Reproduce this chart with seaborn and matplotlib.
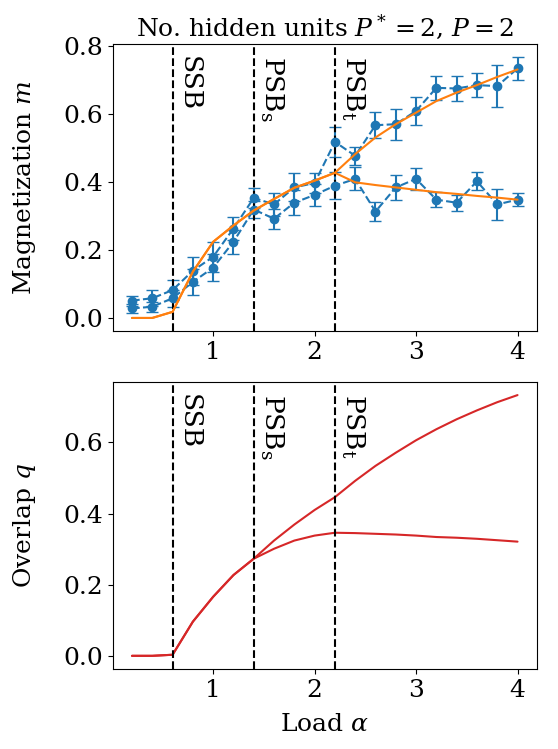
import numpy as np
import pandas as pd
import matplotlib
matplotlib.use("Agg")
import matplotlib.pyplot as plt
import matplotlib.transforms as mtransforms
import seaborn as sns

sns.set_style("ticks")
plt.rcParams['font.family'] = ['DejaVu Serif']
plt.rcParams['mathtext.fontset'] = 'dejavuserif'
plt.rcParams['font.size'] = 18
plt.rcParams['axes.edgecolor'] = 'black'
plt.rcParams['axes.labelcolor'] = 'black'
plt.rcParams['text.color'] = 'black'
plt.rcParams['xtick.color'] = 'black'
plt.rcParams['ytick.color'] = 'black'

# load values
alpha = [0.2, 0.4, 0.6, 0.8, 1.0, 1.2, 1.4, 1.6, 1.8, 2.0,
         2.2, 2.4, 2.6, 2.8, 3.0, 3.2, 3.4, 3.6, 3.8, 4.0]

# simulations (two hidden units), with error bars
m_sim_hi = [0.051, 0.058, 0.082, 0.139, 0.180, 0.263, 0.353, 0.334, 0.384, 0.397,
            0.518, 0.477, 0.567, 0.570, 0.609, 0.677, 0.675, 0.685, 0.682, 0.734]
m_err_hi = [0.015, 0.024, 0.030, 0.041, 0.044, 0.034, 0.030, 0.033, 0.041, 0.029,
            0.044, 0.027, 0.039, 0.046, 0.041, 0.036, 0.036, 0.036, 0.061, 0.033]
m_sim_lo = [0.028, 0.033, 0.058, 0.106, 0.148, 0.224, 0.319, 0.292, 0.339, 0.362,
            0.389, 0.409, 0.313, 0.384, 0.409, 0.348, 0.339, 0.402, 0.334, 0.348]
m_err_lo = [0.012, 0.015, 0.025, 0.039, 0.039, 0.036, 0.025, 0.030, 0.037, 0.033,
            0.039, 0.034, 0.027, 0.036, 0.032, 0.023, 0.023, 0.026, 0.046, 0.020]

# theory
m_th_hi = [0.0, 0.0, 0.018, 0.136, 0.224, 0.272, 0.316, 0.350, 0.383, 0.404,
           0.427, 0.482, 0.531, 0.570, 0.604, 0.638, 0.663, 0.685, 0.709, 0.731]
m_th_lo = [0.0, 0.0, 0.018, 0.136, 0.224, 0.272, 0.316, 0.350, 0.383, 0.404,
           0.427, 0.399, 0.391, 0.384, 0.377, 0.370, 0.365, 0.359, 0.354, 0.348]
q_hi = [0.0, 0.0, 0.003, 0.096, 0.166, 0.227, 0.273, 0.324, 0.369, 0.410,
        0.446, 0.492, 0.534, 0.571, 0.606, 0.637, 0.665, 0.690, 0.713, 0.733]
q_lo = [0.0, 0.0, 0.003, 0.096, 0.166, 0.227, 0.273, 0.301, 0.324, 0.338,
        0.346, 0.345, 0.343, 0.341, 0.338, 0.334, 0.332, 0.329, 0.325, 0.321]

# transitions
trans_x = [0.6, 1.4, 2.2]
trans_lbl = ['SSB', r'PSB$_\mathrm{s}$', r'PSB$_\mathrm{t}$']

df = pd.DataFrame({'alpha': alpha, 'm_hi': m_th_hi, 'm_lo': m_th_lo,
                   'q_hi': q_hi, 'q_lo': q_lo})

fig, (ax1, ax2) = plt.subplots(2, 1, figsize=(5.58, 7.49), dpi=100)
fig.subplots_adjust(left=0.202, right=0.962, bottom=0.107, top=0.941, hspace=0.178)

blue = '#1f77b4'
ax1.errorbar(alpha, m_sim_hi, yerr=m_err_hi, fmt='o--', color=blue, capsize=4, lw=1.5)
ax1.errorbar(alpha, m_sim_lo, yerr=m_err_lo, fmt='o--', color=blue, capsize=4, lw=1.5)
sns.lineplot(data=df, x='alpha', y='m_hi', color='#ff7f0e', ax=ax1, zorder=3)
sns.lineplot(data=df, x='alpha', y='m_lo', color='#ff7f0e', ax=ax1, zorder=3)

sns.lineplot(data=df, x='alpha', y='q_hi', color='#d62728', ax=ax2)
sns.lineplot(data=df, x='alpha', y='q_lo', color='#d62728', ax=ax2)

for ax in (ax1, ax2):
    tr = mtransforms.blended_transform_factory(ax.transData, ax.transAxes)
    for xv, lbl in zip(trans_x, trans_lbl):
        ax.axvline(xv, color='black', ls='--', lw=1.5)
        ax.text(xv + 0.04, 0.96, lbl, transform=tr, rotation=-90,
                ha='left', va='top', fontsize=19)
    ax.set_xticks([1, 2, 3, 4])

ax1.set_xlabel('')
ax1.set_ylabel('Magnetization $m$', labelpad=18)
ax1.set_title('No. hidden units $P^*=2$, $P=2$', fontsize=18)
ax2.set_xlabel(r'Load $\alpha$', labelpad=8)
ax2.set_ylabel('Overlap $q$', labelpad=18)

plt.savefig('out.png', dpi=100)
